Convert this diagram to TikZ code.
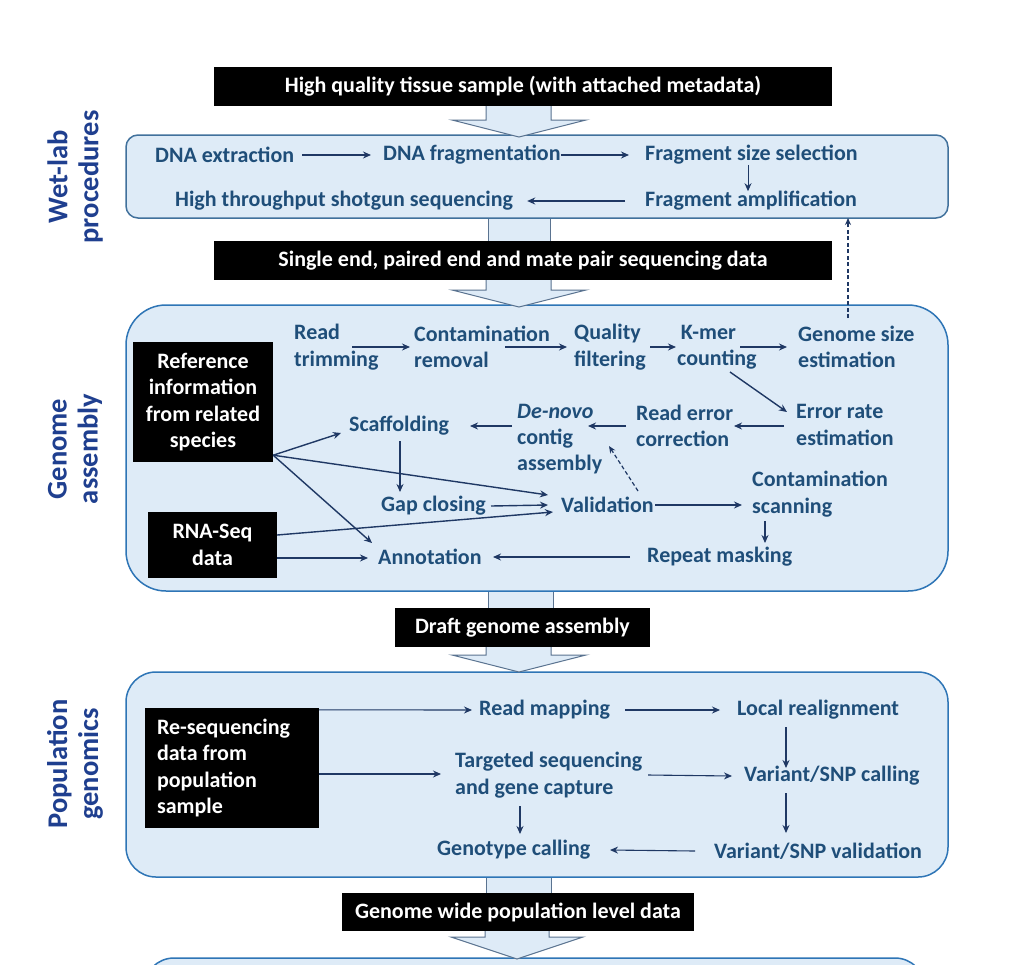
\documentclass[tikz,border=0pt]{standalone}
\usepackage{fontspec}
\setmainfont{Carlito}
\usetikzlibrary{arrows.meta,calc}
\definecolor{txt}{HTML}{1F4E79}
\definecolor{arrc}{HTML}{1F3864}
\definecolor{lbl}{HTML}{1F3F8F}
\definecolor{boxfill}{HTML}{DEEBF7}
\definecolor{boxline}{HTML}{2E75B6}
\definecolor{wetline}{HTML}{41719C}
\definecolor{barline}{HTML}{5A7390}
\tikzset{
  ft/.style={inner sep=0pt, anchor=west, text=txt, font=\fontsize{22}{26.3}\selectfont\bfseries, align=left},
  blk/.style={fill=black, text=white, inner sep=4pt, font=\fontsize{22}{26.3}\selectfont\bfseries, align=center},
  arr/.style={draw=arrc, line width=1.4pt, -{Stealth[length=8pt,width=7pt]}},
  darr/.style={draw=arrc, line width=1.2pt, dash pattern=on 4pt off 2.5pt, -{Stealth[length=7pt,width=6pt]}},
  secbox/.style={fill=boxfill, draw=boxline, line width=1.5pt},
  bar/.style={fill=boxfill, draw=barline, line width=1pt},
  sidelbl/.style={rotate=90, text=lbl, font=\fontsize{28.5}{31}\selectfont\bfseries, align=center, inner sep=0pt}
}
\begin{document}
\begin{tikzpicture}[x=1pt,y=-1pt]
\useasboundingbox (0,0) rectangle (1024,964);
\fill[white] (0,0) rectangle (1024,964);

% shafts between boxes (behind boxes)
\draw[bar] (488,210) rectangle (550,245);
\draw[bar] (488,585) rectangle (553,612);
\draw[bar] (486,870) rectangle (551,897);

% section boxes
\draw[secbox, draw=wetline, rounded corners=12pt] (126,135) rectangle (948,218);
\draw[secbox, rounded corners=40pt] (126,305) rectangle (948,591);
\draw[secbox, rounded corners=30pt] (126,672) rectangle (948,877);
\draw[secbox, rounded corners=30pt] (144,958) rectangle (925,1040);

% block arrows
\draw[bar] (485,925) -- (485,937) -- (451,937) -- (517,959) -- (583,937) -- (549,937) -- (549,925) -- cycle;
\draw[bar] (486,640) -- (486,655) -- (452,655) -- (519,672) -- (586,655) -- (551,655) -- (551,640) -- cycle;
\draw[bar] (486,275) -- (486,290) -- (452,290) -- (519,307) -- (586,290) -- (551,290) -- (551,275) -- cycle;
\draw[bar] (486,100) -- (486,120) -- (452,120) -- (519,137) -- (586,120) -- (551,120) -- (551,100) -- cycle;

% black banners
\node[blk, minimum width=618pt, minimum height=39pt] (b1) at (523,86.5) {High quality tissue sample (with attached metadata)};
\node[blk, minimum width=618pt, minimum height=39pt] (b2) at (523,260.5) {Single end, paired end and mate pair sequencing data};
\node[blk, minimum width=255pt, minimum height=39pt] (b3) at (522.5,627.5) {Draft genome assembly};
\node[blk, minimum width=352pt, minimum height=38pt] (b4) at (518,912) {Genome wide population level data};

% side labels
\node[sidelbl] (l1) at (75,177) {Wet-lab\\procedures};
\node[sidelbl] (l2) at (75,449) {Genome\\assembly};
\node[sidelbl] (l3) at (75,764) {Population\\genomics};

% wet-lab
\node[ft] (dna) at (155,155) {DNA extraction};
\node[ft] (frag) at (383,155) {DNA fragmentation};
\node[ft] (fss) at (645,155) {Fragment size selection};
\node[ft] (amp) at (645,201) {Fragment amplification};
\node[ft] (hts) at (175,201) {High throughput shotgun sequencing};
\draw[arr] ($(dna.east)+(8,0)$) -- ($(frag.west)+(-12,0)$);
\draw[arr] ($(frag.east)+(0,0)$) -- ($(fss.west)+(-16,0)$);
\coordinate (fssd) at ($(fss.south west)+(103,0)$);
\draw[arr, line width=1pt] (fssd) -- (fssd |- amp.north);
\draw[arr] ($(amp.west)+(-20,0)$) -- ($(hts.east)+(14,0)$);

% genome assembly
\node[blk, minimum width=140pt, minimum height=120pt] (ref) at (203,402) {Reference\\information\\from related\\species};
\node[blk, minimum width=129pt, minimum height=66pt] (rna) at (212.5,545) {RNA-Seq\\data};
\node[ft] (rt) at (294,347) {Read\\trimming};
\node[ft] (cr) at (414,347) {Contamination\\removal};
\node[ft] (qf) at (574,347) {Quality\\filtering};
\node[ft] (km) at (677,347) {\,K-mer\\counting};
\node[ft] (gs) at (798,347) {Genome size\\estimation};
\node[ft] (er) at (796,425) {Error rate\\estimation};
\node[ft] (rec) at (636,426) {Read error\\correction};
\node[ft] (dn) at (517,439) {\textit{De-novo}\\contig\\assembly};
\node[ft] (sc) at (349,426) {Scaffolding};
\node[ft] (gc) at (381,506) {Gap closing};
\node[ft] (val) at (561,505) {Validation};
\node[ft] (cs) at (752,494) {Contamination\\scanning};
\node[ft] (rm) at (647,557) {Repeat masking};
\node[ft] (ann) at (378,557) {Annotation};

\draw[arr] ($(rt.west)+(58,0)$) -- ($(cr.west)+(-4,0)$);
\draw[arr] ($(cr.west)+(91,0)$) -- ($(qf.west)+(-7,0)$);
\draw[arr] ($(qf.west)+(76,0)$) -- ($(km.west)+(-1,0)$);
\draw[arr] ($(km.west)+(63,0)$) -- ($(gs.west)+(-11,0)$);
\draw[arr] ($(km.west)+(53,25)$) -- ($(er.west)+(-9,-13)$);
\draw[arr] ($(er.west)+(-12,1)$) -- ($(rec.west)+(98,0)$);
\draw[arr] ($(rec.west)+(-10,0)$) -- ($(dn.west)+(71,-13)$);
\draw[arr] ($(dn.west)+(-5,-13)$) -- ($(sc.west)+(121,0)$);
\draw[arr] ($(ref.south east)+(0,-7)$) -- ($(sc.west)+(-8,7)$);
\draw[arr, line width=1.1pt] ($(sc.west)+(51,15)$) -- ($(gc.west)+(19,-14)$);
\draw[arr] ($(gc.west)+(110,0)$) -- ($(val.west)+(-13,0)$);
\draw[arr] ($(val.west)+(94,0)$) -- ($(cs.west)+(-10,11)$);
\draw[arr, line width=1.1pt] ($(cs.west)+(13,27)$) -- ($(cs.west)+(13,49)$);
\draw[arr] ($(rm.west)+(-17,0)$) -- ($(ann.west)+(115,0)$);
\draw[darr] ($(val.west)+(77,-14)$) -- ($(dn.west)+(92,7)$);
\draw[arr] ($(ref.south east)+(0,-7)$) -- ($(val.west)+(-13,-10)$);
\draw[arr] ($(ref.south east)+(0,-7)$) -- ($(ann.west)+(-6,-14)$);
\draw[arr] ($(rna.east)+(0,-10)$) -- ($(val.west)+(-8,7)$);
\draw[arr] ($(rna.east)+(0,13)$) -- ($(ann.west)+(-10,1)$);
\draw[darr] ($(gs.west)+(50,-29)$) -- ($(amp.west)+(203,17)$);

% population genomics
\node[blk, minimum width=174pt, minimum height=120pt, text width=150pt, align=flush left] (rs) at (232,768) {Re-sequencing\\data from\\population\\sample};
\node[ft] (rmap) at (479,710) {Read mapping};
\node[ft] (la) at (737,710) {Local realignment};
\node[ft] (tsq) at (455,775) {Targeted sequencing\\and gene capture};
\node[ft] (vc) at (744,776) {Variant/SNP calling};
\node[ft] (gt) at (437,850) {Genotype calling};
\node[ft] (vv) at (714,851) {Variant/SNP validation};

\draw[arr, line width=1.1pt] ($(rs.north east)+(0,2)$) -- ($(rmap.west)+(-7,0)$);
\draw[arr, line width=1.1pt] ($(rmap.west)+(146,0)$) -- ($(la.west)+(-17,0)$);
\draw[arr, line width=1.1pt] ($(la.west)+(49,17)$) -- ($(la.west)+(49,58)$);
\draw[arr, line width=1.1pt] ($(rs.east)+(0,6)$) -- ($(tsq.west)+(-14,-1)$);
\draw[arr, line width=1.1pt] ($(tsq.west)+(193,0)$) -- ($(vc.west)+(-12,0)$);
\draw[arr, line width=1.1pt] ($(tsq.west)+(65,31)$) -- ($(tsq.west)+(65,59)$);
\draw[arr, line width=1.1pt] ($(vc.west)+(42,17)$) -- ($(vc.west)+(42,57)$);
\draw[arr, line width=1.1pt] ($(vv.west)+(-19,0)$) -- ($(gt.west)+(173,0)$);
\end{tikzpicture}
\end{document}
